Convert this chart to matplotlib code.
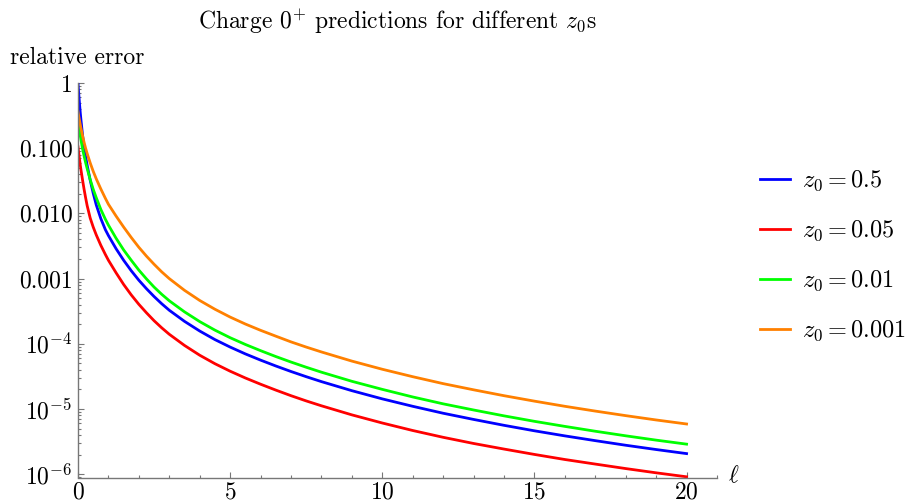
import matplotlib
matplotlib.use('Agg')
import matplotlib.pyplot as plt

plt.rcParams['font.family'] = 'serif'
plt.rcParams['font.serif'] = ['cmr10']
plt.rcParams['mathtext.fontset'] = 'cm'
plt.rcParams['axes.formatter.use_mathtext'] = True

# values (relative error vs ell)
ell = [0, 0.025, 0.05, 0.075, 0.1, 0.15, 0.2, 0.25, 0.3, 0.4, 0.5, 0.6, 0.75, 0.9, 1,
       1.25, 1.5, 1.75, 2, 2.25, 2.5, 2.75, 3, 3.5, 4, 4.5, 5, 5.5, 6, 6.5, 7, 7.5, 8,
       9, 10, 11, 12, 13, 14, 15, 16, 17, 18, 19, 20]
err_z05 = [1.0, 0.676, 0.479, 0.347, 0.263, 0.158, 0.105, 0.0741, 0.0550, 0.0324, 0.0204, 0.0135, 8.32e-3, 5.62e-3, 4.57e-3,
           2.88e-3, 1.91e-3, 1.32e-3, 9.44e-4, 7.0e-4, 5.31e-4, 4.12e-4, 3.27e-4, 2.21e-4, 1.57e-4, 1.16e-4, 8.91e-5,
           7.0e-5, 5.62e-5, 4.57e-5, 3.76e-5, 3.13e-5, 2.63e-5,
           1.91e-5, 1.43e-5, 1.10e-5, 8.61e-6, 6.92e-6, 5.62e-6, 4.63e-6, 3.87e-6, 3.27e-6, 2.78e-6, 2.39e-6, 2.07e-6]
err_z005 = [0.105, 0.0832, 0.0676, 0.0550, 0.0457, 0.0324, 0.0234, 0.0174, 0.0132, 8.51e-3, 6.17e-3, 4.68e-3, 3.24e-3, 2.34e-3, 1.91e-3,
            1.23e-3, 8.13e-4, 5.62e-4, 4.03e-4, 2.99e-4, 2.26e-4, 1.76e-4, 1.40e-4, 9.44e-5, 6.68e-5, 4.95e-5, 3.80e-5,
            2.99e-5, 2.40e-5, 1.95e-5, 1.60e-5, 1.33e-5, 1.12e-5,
            8.13e-6, 6.10e-6, 4.68e-6, 3.68e-6, 2.96e-6, 2.43e-6, 2.01e-6, 1.68e-6, 1.43e-6, 1.22e-6, 1.05e-6, 9.12e-7]
err_z001 = [0.269, 0.224, 0.186, 0.155, 0.132, 0.0977, 0.0759, 0.0603, 0.0490, 0.0331, 0.0234, 0.0174, 0.0115, 8.13e-3, 6.61e-3,
            4.17e-3, 2.75e-3, 1.91e-3, 1.35e-3, 9.89e-4, 7.41e-4, 5.75e-4, 4.57e-4, 3.09e-4, 2.19e-4, 1.62e-4, 1.24e-4,
            9.77e-5, 7.85e-5, 6.38e-5, 5.25e-5, 4.37e-5, 3.67e-5,
            2.66e-5, 2.0e-5, 1.53e-5, 1.20e-5, 9.66e-6, 7.85e-6, 6.47e-6, 5.41e-6, 4.56e-6, 3.88e-6, 3.33e-6, 2.89e-6]
err_z0001 = [0.363, 0.309, 0.266, 0.229, 0.200, 0.155, 0.123, 0.100, 0.0832, 0.0596, 0.0442, 0.0339, 0.0237, 0.0170, 0.0138,
             9.12e-3, 6.17e-3, 4.27e-3, 3.02e-3, 2.21e-3, 1.66e-3, 1.27e-3, 1.0e-3, 6.61e-4, 4.62e-4, 3.39e-4, 2.57e-4,
             2.01e-4, 1.61e-4, 1.31e-4, 1.07e-4, 8.91e-5, 7.50e-5,
             5.43e-5, 4.07e-5, 3.13e-5, 2.45e-5, 1.97e-5, 1.60e-5, 1.32e-5, 1.10e-5, 9.29e-6, 7.91e-6, 6.79e-6, 5.89e-6]

series = [err_z05, err_z005, err_z001, err_z0001]
labels = [r'$z_0 = 0.5$', r'$z_0 = 0.05$', r'$z_0 = 0.01$', r'$z_0 = 0.001$']
colors = ['#0000ff', '#ff0000', '#00ff00', '#ff8000']

y_ticks = [1, 0.1, 0.01, 0.001, 1e-4, 1e-5, 1e-6]
y_ticklabels = ['1', '0.100', '0.010', '0.001', r'$10^{-4}$', r'$10^{-5}$', r'$10^{-6}$']
x_ticks = [0, 5, 10, 15, 20]

fig = plt.figure(figsize=(9.1, 5), dpi=100)
ax = fig.add_axes([78 / 910, 22.5 / 500, (717 - 78) / 910, (477.5 - 83) / 500])

handles = []
for vals, c in zip(series, colors):
    h, = ax.plot(ell, vals, color=c, lw=2.0, solid_joinstyle='round')
    handles.append(h)

ax.set_yscale('log')
ax.set_xlim(0, 21)
ax.set_ylim(8.9e-7, 1)
ax.set_yticks(y_ticks)
ax.set_yticklabels(y_ticklabels)
ax.yaxis.set_minor_locator(matplotlib.ticker.LogLocator(base=10, subs=range(2, 10), numticks=20))
ax.yaxis.set_minor_formatter(matplotlib.ticker.NullFormatter())
ax.set_xticks(x_ticks)
ax.xaxis.set_minor_locator(matplotlib.ticker.MultipleLocator(1))

axis_color = '#777777'
for s in ['top', 'right']:
    ax.spines[s].set_visible(False)
for s in ['left', 'bottom']:
    ax.spines[s].set_color(axis_color)
    ax.spines[s].set_linewidth(1.0)
ax.tick_params(which='both', direction='in', color=axis_color, labelsize=17, width=0.8)
ax.tick_params(which='major', length=4.5, pad=4)
ax.tick_params(axis='x', which='major', pad=3)
ax.tick_params(which='minor', length=2.3)
ax.patch.set_visible(False)

fig.text(397 / 910, 1 - 22 / 500, r'Charge $0^{+}$ predictions for different $z_0$s',
         ha='center', va='center', fontsize=17)
fig.text(10 / 910, 1 - 58 / 500, 'relative error', ha='left', va='center', fontsize=17)
fig.text(728 / 910, 1 - 476 / 500, r'$\ell$', ha='left', va='center', fontsize=17)

fig.legend(handles, labels, loc='center left', bbox_to_anchor=(760 / 910, 1 - 256 / 500),
           frameon=False, fontsize=17.5, borderpad=0, borderaxespad=0,
           handlelength=1.24, handletextpad=0.48, labelspacing=1.05)

fig.savefig('out.png', dpi=100)
